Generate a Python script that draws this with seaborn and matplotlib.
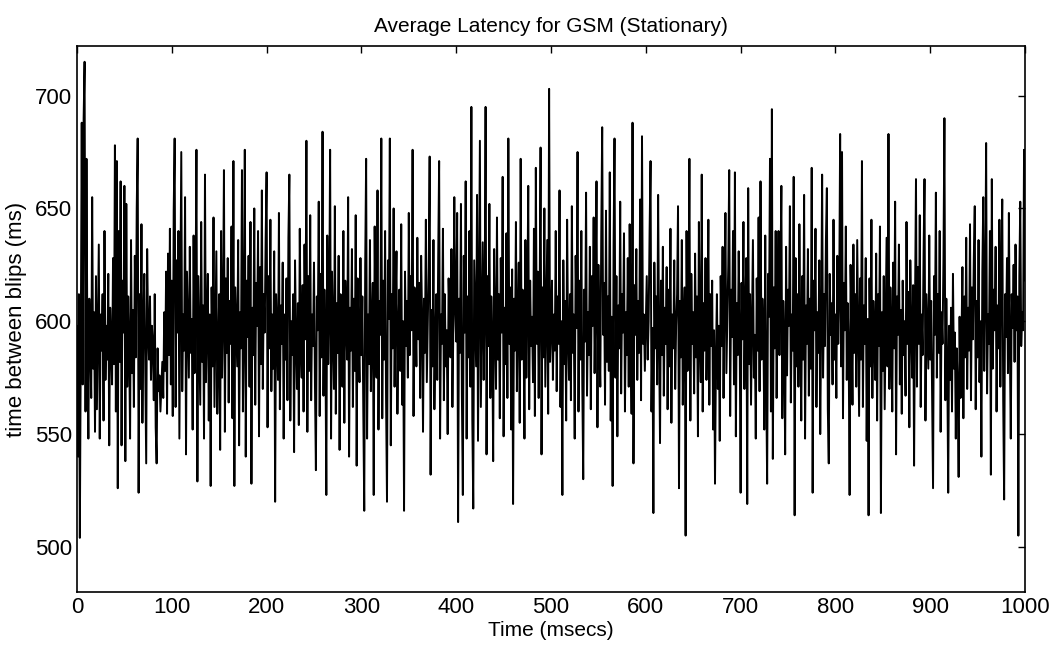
import numpy as np
import pandas as pd
import seaborn as sns
import matplotlib.pyplot as plt
from matplotlib import font_manager

# latency samples, one per msec (0..1000)
latency_ms = [
    598, 540, 612, 504, 590, 688, 572, 690, 715, 560, 672, 585, 548, 610, 592, 566, 655, 579, 604, 551,
    620, 561, 596, 634, 548, 603, 587, 612, 556, 640, 574, 598, 583, 621, 545, 606, 590, 572, 628, 581,
    678, 560, 671, 526, 640, 582, 662, 545, 618, 595, 660, 538, 652, 571, 611, 590, 548, 636, 577, 605,
    562, 629, 584, 650, 681, 524, 612, 570, 643, 555, 600, 621, 579, 537, 632, 596, 583, 611, 574, 598,
    590, 565, 612, 553, 537, 588, 569, 576, 560, 571, 582, 566, 604, 578, 622, 559, 630, 585, 641, 572,
    618, 558, 649, 681, 562, 627, 595, 640, 548, 612, 675, 569, 603, 587, 655, 541, 622, 598, 575, 633,
    586, 601, 552, 638, 577, 610, 676, 529, 620, 591, 563, 644, 582, 607, 548, 665, 573, 599, 621, 556,
    603, 527, 615, 580, 646, 562, 597, 631, 559, 588, 612, 543, 640, 575, 602, 667, 551, 619, 586, 628,
    564, 609, 590, 642, 557, 671, 527, 615, 598, 580, 636, 545, 604, 588, 667, 560, 595, 676, 540, 618,
    593, 629, 571, 644, 528, 606, 585, 650, 563, 617, 598, 640, 549, 624, 581, 658, 570, 612, 595, 637,
    666, 553, 620, 588, 645, 569, 603, 579, 631, 520, 612, 596, 574, 648, 561, 607, 590, 626, 548, 603,
    583, 619, 565, 637, 665, 556, 600, 585, 612, 542, 627, 593, 570, 608, 554, 641, 588, 575, 616, 560,
    634, 592, 680, 551, 620, 578, 647, 565, 603, 589, 626, 572, 534, 611, 596, 653, 558, 621, 584, 684,
    567, 614, 592, 523, 638, 581, 604, 676, 548, 622, 597, 570, 651, 559, 608, 586, 629, 543, 612, 594,
    571, 640, 555, 618, 599, 583, 655, 540, 606, 587, 632, 562, 610, 578, 647, 536, 619, 592, 573, 628,
    585, 611, 560, 516, 625, 672, 548, 603, 581, 636, 569, 598, 617, 523, 642, 590, 575, 658, 552, 609,
    594, 681, 557, 618, 583, 640, 566, 520, 627, 601, 681, 545, 612, 588, 650, 571, 606, 631, 559, 597,
    614, 578, 643, 563, 600, 516, 622, 589, 609, 575, 648, 585, 620, 596, 676, 558, 615, 603, 580, 637,
    592, 617, 566, 629, 602, 551, 610, 586, 645, 573, 599, 624, 673, 532, 605, 580, 636, 561, 591, 612,
    574, 628, 671, 548, 603, 590, 641, 565, 612, 580, 596, 550, 619, 600, 584, 632, 562, 598, 655, 605,
    591, 648, 511, 610, 586, 652, 567, 523, 629, 595, 662, 548, 611, 584, 640, 571, 695, 556, 517, 627,
    603, 580, 656, 547, 614, 680, 562, 598, 635, 574, 608, 695, 541, 620, 589, 652, 566, 611, 592, 538,
    632, 599, 570, 646, 583, 612, 557, 628, 595, 664, 549, 606, 581, 639, 566, 681, 590, 615, 552, 623,
    519, 610, 587, 644, 569, 601, 626, 555, 672, 583, 614, 597, 548, 636, 575, 607, 660, 561, 618, 589,
    602, 573, 641, 558, 668, 590, 622, 566, 609, 677, 541, 615, 584, 650, 571, 604, 636, 559, 703, 582,
    596, 618, 574, 603, 587, 640, 569, 611, 590, 658, 562, 600, 523, 627, 581, 609, 556, 645, 593, 574,
    612, 565, 651, 586, 603, 548, 629, 597, 675, 560, 618, 583, 640, 572, 530, 614, 591, 657, 567, 604,
    585, 633, 561, 620, 598, 646, 577, 609, 662, 553, 625, 592, 571, 638, 686, 594, 617, 563, 649, 582,
    611, 578, 666, 556, 602, 527, 634, 681, 575, 620, 549, 607, 588, 653, 568, 612, 595, 639, 560, 604,
    585, 628, 571, 643, 597, 559, 688, 537, 616, 594, 632, 574, 609, 586, 654, 565, 682, 590, 603, 578,
    599, 620, 583, 600, 640, 671, 560, 597, 515, 626, 588, 611, 572, 656, 593, 546, 618, 585, 633, 567,
    606, 590, 624, 561, 614, 580, 641, 555, 603, 588, 627, 570, 598, 612, 651, 526, 609, 584, 636, 563,
    597, 615, 505, 640, 578, 603, 672, 556, 621, 590, 604, 568, 630, 584, 611, 549, 644, 592, 573, 665,
    560, 608, 587, 628, 574, 600, 645, 563, 612, 589, 618, 552, 596, 528, 584, 612, 570, 598, 547, 620,
    589, 633, 566, 610, 648, 577, 602, 625, 667, 558, 614, 593, 640, 572, 666, 549, 608, 585, 631, 596,
    524, 617, 592, 644, 570, 605, 628, 519, 659, 581, 612, 563, 600, 636, 575, 594, 548, 619, 587, 646,
    569, 662, 583, 610, 597, 552, 638, 574, 528, 621, 602, 672, 560, 694, 539, 615, 588, 640, 566, 606,
    640, 585, 620, 660, 557, 609, 592, 541, 633, 576, 614, 598, 651, 564, 603, 587, 664, 514, 628, 580,
    612, 571, 643, 594, 556, 620, 583, 656, 548, 607, 590, 632, 567, 610, 579, 668, 524, 618, 596, 641,
    562, 604, 586, 627, 550, 598, 665, 575, 612, 589, 636, 659, 561, 537, 621, 594, 608, 572, 645, 583,
    603, 566, 629, 590, 611, 683, 580, 675, 557, 617, 596, 642, 574, 608, 588, 523, 625, 600, 563, 634,
    586, 612, 571, 636, 595, 558, 619, 583, 671, 562, 607, 590, 628, 547, 601, 514, 619, 580, 645, 566,
    609, 593, 574, 630, 556, 612, 589, 642, 515, 604, 578, 620, 561, 598, 637, 580, 683, 570, 615, 596,
    560, 626, 588, 653, 541, 611, 594, 634, 572, 605, 559, 618, 585, 600, 567, 644, 590, 613, 553, 627,
    598, 575, 616, 536, 608, 663, 571, 624, 590, 647, 562, 603, 585, 630, 663, 556, 612, 596, 579, 638,
    583, 609, 568, 526, 620, 594, 657, 575, 612, 586, 640, 551, 604, 590, 628, 690, 565, 610, 581, 524,
    598, 574, 606, 560, 621, 579, 595, 548, 588, 570, 531, 602, 566, 592, 624, 557, 611, 584, 637, 570,
    606, 587, 643, 565, 615, 592, 628, 651, 561, 609, 584, 636, 573, 600, 540, 622, 655, 578, 611, 679,
    568, 603, 590, 640, 532, 663, 579, 614, 596, 633, 560, 607, 588, 645, 571, 619, 654, 565, 521, 612,
    593, 628, 577, 648, 590, 548, 612, 597, 625, 582, 634, 596, 611, 505, 620, 653, 589, 604, 596, 676,
    618,
]
time_ms = list(range(len(latency_ms)))

x_ticks = [0, 100, 200, 300, 400, 500, 600, 700, 800, 900, 1000]
y_ticks = [500, 550, 600, 650, 700]

df = pd.DataFrame({"Time": time_ms, "Latency": latency_ms})

sns.set_style("white")
installed = {f.name for f in font_manager.fontManager.ttflist}
fams = [f for f in ["Liberation Sans Narrow", "Liberation Sans", "DejaVu Sans"] if f in installed]
plt.rcParams["font.family"] = fams
plt.rcParams["text.color"] = "black"
plt.rcParams["axes.labelcolor"] = "black"

fig, ax = plt.subplots(figsize=(10.52, 6.59), dpi=100)
fig.subplots_adjust(left=77 / 1052, right=1025 / 1052, top=1 - 46 / 659, bottom=1 - 592 / 659)

sns.lineplot(data=df, x="Time", y="Latency", color="black", linewidth=1.4,
             estimator=None, ax=ax)

ax.set_xlim(0, 1000)
ax.set_ylim(480, 722)
ax.set_xticks(x_ticks)
ax.set_yticks(y_ticks)
ax.tick_params(direction="in", top=True, right=True, length=5, width=1,
               labelsize=16, colors="black")
for s in ax.spines.values():
    s.set_visible(True)
    s.set_color("black")
    s.set_linewidth(1.2)

ax.set_title("Average Latency for GSM (Stationary)", fontsize=15, pad=10, color="black")
ax.set_xlabel("Time (msecs)", fontsize=15, labelpad=2)
ax.set_ylabel("time between blips (ms)", fontsize=16, labelpad=6)

fig.savefig("out.png", dpi=100, facecolor="white")
